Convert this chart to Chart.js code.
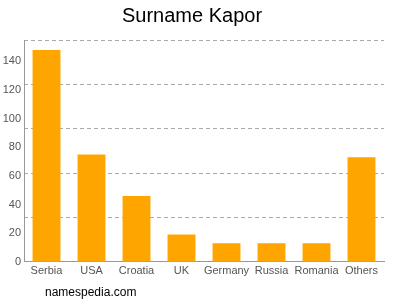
<!DOCTYPE html>
<html><head><meta charset="utf-8">
<script src="https://cdn.jsdelivr.net/npm/chart.js@4/dist/chart.umd.min.js"></script>
<style>
html,body{margin:0;padding:0;background:#fff;}
#wrap{position:relative;width:400px;height:300px;}
#foot{position:absolute;left:45px;top:285px;font:12px "Liberation Sans",Arial,sans-serif;color:#000;}
</style></head>
<body><div id="wrap"><canvas id="c" width="400" height="300"></canvas><div id="foot">namespedia.com</div></div>
<script>
const categories = ["Serbia","USA","Croatia","UK","Germany","Russia","Romania","Others"];
const counts = [148,75,46,19,13,13,13,73];
const tickLabels = [0,20,40,60,80,100,120,140];
const gridValues = [31,62,93,124,155];
const axisMax = 155;

Chart.defaults.font.family = '"Liberation Sans", Arial, sans-serif';
new Chart(document.getElementById('c'), {
  type: 'bar',
  data: { labels: categories, datasets: [{ data: counts, backgroundColor: '#ffa500', categoryPercentage: 0.62, barPercentage: 1 }] },
  options: {
    responsive: false, animation: false,
    layout: { padding: { left: 0, right: 16, top: 0, bottom: 19 } },
    plugins: {
      legend: { display: false }, tooltip: { enabled: false },
      title: { display: true, text: 'Surname Kapor', color: '#000', font: { size: 20, weight: 'normal' }, padding: { top: 4, bottom: 12 } }
    },
    scales: {
      x: { grid: { display: false, drawTicks: false }, border: { color: '#999' },
           ticks: { color: '#555', font: { size: 11 }, padding: 3, maxRotation: 0, minRotation: 0, autoSkip: false } },
      y: { min: 0, max: axisMax, position: 'left',
           afterBuildTicks: a => { a.ticks = tickLabels.map(v => ({ value: v })); },
           afterFit: a => { a.width = 24; },
           grid: { display: false, drawTicks: false }, border: { color: '#999' },
           ticks: { color: '#555', font: { size: 11 }, padding: 3 } },
      g: { min: 0, max: axisMax, position: 'right', display: true,
           afterBuildTicks: a => { a.ticks = gridValues.map(v => ({ value: v })); },
           afterFit: a => { a.width = 0; },
           ticks: { display: false },
           border: { display: false, dash: [4,3] },
           grid: { color: '#aaa', drawTicks: false } }
    }
  }
});
</script></body></html>
